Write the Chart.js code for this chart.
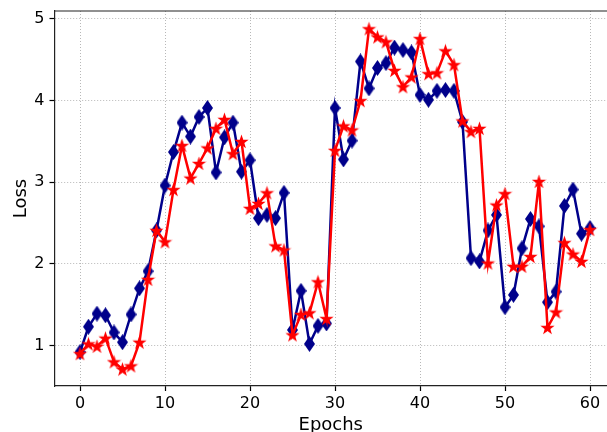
<!DOCTYPE html>
<html>
<head>
<meta charset="utf-8">
<script src="https://cdn.jsdelivr.net/npm/chart.js@4.4.1/dist/chart.umd.min.js"></script>
<style>
  html, body { margin: 0; padding: 0; background: #fff; }
  #wrap { width: 607px; height: 432px; }
</style>
</head>
<body>
<div id="wrap"><canvas id="loss"></canvas></div>
<script>
"use strict";

var epochs = [0, 1, 2, 3, 4, 5, 6, 7, 8, 9, 10, 11, 12, 13, 14, 15, 16, 17, 18, 19,
	20, 21, 22, 23, 24, 25, 26, 27, 28, 29, 30, 31, 32, 33, 34, 35, 36, 37, 38, 39,
	40, 41, 42, 43, 44, 45, 46, 47, 48, 49, 50, 51, 52, 53, 54, 55, 56, 57, 58, 59, 60];

var lossA = [0.92, 1.23, 1.39, 1.37, 1.16, 1.04, 1.38, 1.70, 1.91, 2.41,
	2.96, 3.37, 3.73, 3.56, 3.80, 3.91, 3.12, 3.55, 3.73, 3.13,
	3.27, 2.56, 2.60, 2.56, 2.87, 1.19, 1.67, 1.02, 1.24, 1.27,
	3.91, 3.28, 3.51, 4.48, 4.15, 4.40, 4.46, 4.65, 4.62, 4.59,
	4.07, 4.01, 4.12, 4.13, 4.12, 3.74, 2.07, 2.03, 2.41, 2.60,
	1.47, 1.62, 2.19, 2.55, 2.46, 1.53, 1.66, 2.71, 2.91, 2.37, 2.44];

var lossB = [0.90, 1.02, 0.99, 1.09, 0.80, 0.71, 0.75, 1.04, 1.81, 2.41,
	2.27, 2.91, 3.45, 3.05, 3.23, 3.42, 3.66, 3.77, 3.35, 3.50,
	2.68, 2.74, 2.87, 2.22, 2.17, 1.13, 1.38, 1.40, 1.78, 1.33,
	3.39, 3.69, 3.64, 4.00, 4.88, 4.78, 4.72, 4.37, 4.17, 4.29,
	4.76, 4.33, 4.34, 4.61, 4.44, 3.75, 3.62, 3.66, 2.01, 2.72,
	2.86, 1.97, 1.97, 2.09, 3.01, 1.22, 1.41, 2.26, 2.12, 2.03, 2.42];

var xTicks = [0, 10, 20, 30, 40, 50, 60];
var yTicks = [1, 2, 3, 4, 5];

var NAVY = '#00008b';
var RED = '#ff0000';
var FONT = 'DejaVu Sans';

// thin diamond marker
function diamond(w, h, color) {
	var c = document.createElement('canvas');
	c.width = w; c.height = h;
	var g = c.getContext('2d');
	g.fillStyle = color;
	g.beginPath();
	g.moveTo(w / 2, 0);
	g.lineTo(w, h / 2);
	g.lineTo(w / 2, h);
	g.lineTo(0, h / 2);
	g.closePath();
	g.fill();
	return c;
}

// filled five point star marker
function star(size, color) {
	var c = document.createElement('canvas');
	c.width = size; c.height = size;
	var g = c.getContext('2d');
	var R = size / 2, r = R * 0.4, cx = size / 2, cy = size / 2 + 0.6;
	g.fillStyle = color;
	g.beginPath();
	for (var i = 0; i < 10; i++) {
		var rad = (i % 2 === 0) ? R : r;
		var a = -Math.PI / 2 + i * Math.PI / 5;
		var px = cx + rad * Math.cos(a), py = cy + rad * Math.sin(a);
		if (i === 0) g.moveTo(px, py); else g.lineTo(px, py);
	}
	g.closePath();
	g.fill();
	return c;
}

function points(vals) {
	return epochs.map(function (e, i) { return {x: e, y: vals[i]}; });
}

// top spine of the frame
var frameTop = {
	id: 'frameTop',
	afterDraw: function (chart) {
		var a = chart.chartArea, ctx = chart.ctx;
		ctx.save();
		ctx.strokeStyle = '#222';
		ctx.lineWidth = 1.2;
		ctx.beginPath();
		ctx.moveTo(a.left, a.top);
		ctx.lineTo(a.right, a.top);
		ctx.stroke();
		ctx.restore();
	}
};

var ctx = document.getElementById('loss').getContext('2d');
var chart = new Chart(ctx, {
	type: 'line',
	data: {
		datasets: [{
			label: 'A',
			data: points(lossA),
			borderColor: NAVY,
			borderWidth: 2.5,
			pointStyle: diamond(11, 16, NAVY),
			pointRadius: 7,
			tension: 0,
			order: 2
		}, {
			label: 'B',
			data: points(lossB),
			borderColor: RED,
			borderWidth: 2.5,
			pointStyle: star(15, RED),
			pointRadius: 7,
			tension: 0,
			order: 1
		}]
	},
	options: {
		responsive: true,
		maintainAspectRatio: false,
		animation: false,
		layout: {autoPadding: false, padding: {top: 11, right: 0, left: 0, bottom: 0}},
		plugins: {legend: {display: false}, tooltip: {enabled: false}},
		scales: {
			x: {
				type: 'linear',
				min: -3,
				max: 62,
				afterBuildTicks: function (s) { s.ticks = xTicks.map(function (v) { return {value: v}; }); },
				afterFit: function (s) { s.height = 46; s.paddingLeft = 0; s.paddingRight = 0; },
				grid: {color: '#b8b8b8', lineWidth: 1, tickColor: '#000', tickLength: 5, tickWidth: 1.2, tickBorderDash: []},
				border: {color: '#222', width: 1.2, dash: [1, 2]},
				ticks: {color: '#000', font: {family: FONT, size: 16}, padding: 3, maxRotation: 0},
				title: {display: true, text: 'Epochs', color: '#000', font: {family: FONT, size: 18, lineHeight: 1}, padding: {top: 0, bottom: -2}}
			},
			y: {
				min: 0.504,
				max: 5.098,
				afterBuildTicks: function (s) { s.ticks = yTicks.map(function (v) { return {value: v}; }); },
				afterFit: function (s) { s.width = 54.5; s.paddingTop = 0; s.paddingBottom = 0; },
				grid: {color: '#b8b8b8', lineWidth: 1, tickColor: '#000', tickLength: 5, tickWidth: 1.2, tickBorderDash: []},
				border: {color: '#222', width: 1.2, dash: [1, 2]},
				ticks: {color: '#000', font: {family: FONT, size: 16}, padding: 5},
				title: {display: true, text: 'Loss', color: '#000', font: {family: FONT, size: 18, lineHeight: 1}, padding: {top: 12, bottom: 0}}
			}
		}
	},
	plugins: [frameTop]
});
</script>
</body>
</html>
